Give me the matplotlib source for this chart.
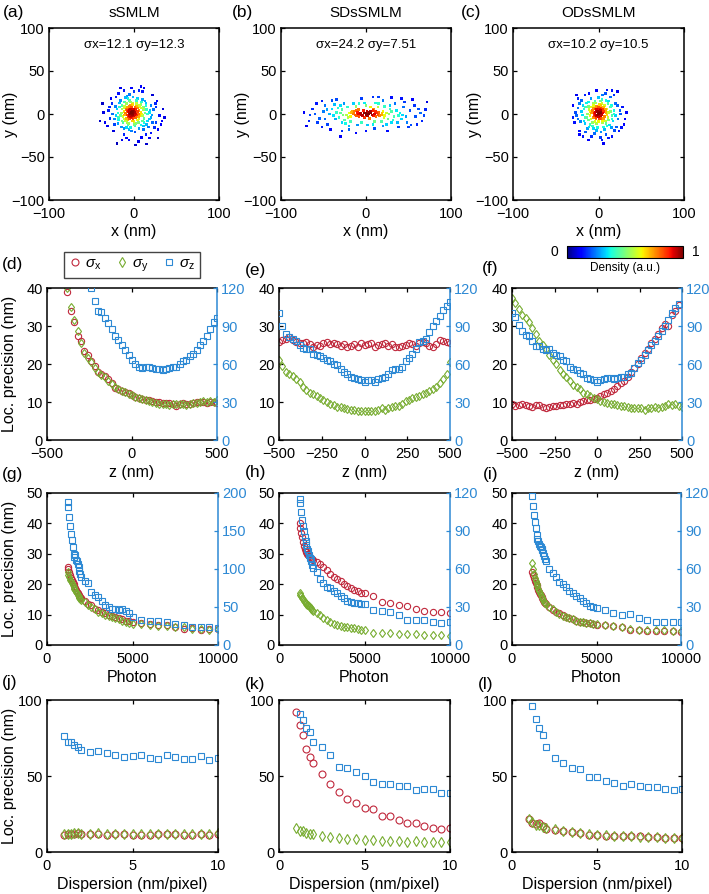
import numpy as np
import matplotlib
matplotlib.use('Agg')
import matplotlib.pyplot as plt
from matplotlib.cm import ScalarMappable
from matplotlib.lines import Line2D

plt.rcParams['font.family'] = ['Liberation Sans', 'DejaVu Sans']
plt.rcParams['mathtext.fontset'] = 'custom'
plt.rcParams['mathtext.rm'] = 'Liberation Sans'
plt.rcParams['mathtext.it'] = 'Liberation Sans:italic'

RED = '#C0283C'
GREEN = '#77AC30'
BLUE = '#2D89D4'
W, H = 709, 894

# ---- row 1: localisation clouds (x, y in nm) ----
cloud_a = [(-3, 2), (-5, 4), (-1, 0), (-6, -1), (0, 5), (-4, -3), (1, 2), (-7, 3), (-2, 6), (0, -2),
           (-6, 6), (2, 5), (-5, -5), (-1, -5), (3, -1), (-8, -1), (-3, 8), (4, 3), (-2, -8), (-9, 5),
           (-4, 0), (-2, 3), (-7, -3), (2, -4), (-3, -2), (1, 8), (-5, 9), (4, 7), (-8, 8), (5, 0),
           (-4, 5), (-2, -1), (0, 3), (-6, 2), (-3, -4), (1, -1), (-1, 6), (-5, -2), (2, 0), (-8, 4),
           (-4, 10), (3, 9), (-10, 1), (6, 4), (-7, -7), (0, -9), (5, -3), (-11, -1), (7, -2), (-9, -5),
           (4, -7), (-2, 11), (9, 0), (-12, 7), (6, 10), (-8, -10), (1, -14), (11, 8), (-14, -8), (13, 1),
           (6, -6), (-12, 3), (-13, -3), (7, 9), (-10, -8), (8, 2), (-1, 13), (-6, -11), (10, -2), (-11, 9),
           (3, 12), (-14, 6), (9, 7), (-4, 14), (5, -10), (-12, -6), (11, 5), (-9, 12), (2, -11), (-7, -13),
           (12, -5), (-15, 1), (0, -12), (8, 11), (-13, -10), (10, -8),
           (-16, -2), (15, 5), (-5, 16), (8, -13), (-11, 14), (12, -10), (-17, 8), (16, -8), (3, 16), (-9, -16),
           (14, 13), (-19, 1), (18, 2), (-4, -16), (9, 14), (-14, 10), (11, -14), (-18, -7), (20, -4), (-7, 18),
           (14, 10), (-18, -4), (16, 0), (-20, 6), (4, 18), (-6, -18), (15, -12), (-17, 13), (10, 17), (-12, -17),
           (19, 4), (-21, -2), (6, -17), (-10, 19), (18, -6), (-19, -11), (-1, 20), (-3, -20), (13, 15), (-16, 16),
           (17, -15), (-15, -15), (21, -1), (-22, 9), (1, -21), (20, 10), (-8, 21), (11, -18), (-23, -6), (-5, 23),
           (23, 5), (-25, 0), (22, -10), (-23, -12), (6, 27), (-12, -24), (25, 12), (-29, 8), (14, -24), (-6, -30),
           (27, 15), (-31, -14), (0, 26), (20, -22), (-21, 20), (33, -8), (-37, 12), (9, -27), (-16, 30), (26, -10),
           (26, 8), (-28, -5), (24, -16), (-26, 12), (10, 26), (-9, -28), (30, -2), (-34, -10), (5, -32), (-18, 24),
           (22, 22), (-24, -20), (12, 30), (-3, 30), (28, -18), (-30, 4), (18, -28), (-14, -30), (34, 6), (-27, 18),
           (8, 32), (-40, -8), (32, -12), (-20, -34), (28, -28), (-36, 2), (15, -35), (-12, 27), (2, -36), (36, -4)]

cloud_b = [(-15, 0), (-10, 2), (-5, -1), (0, 1), (5, 3), (10, 0), (15, 2), (-18, -3), (-8, -3), (2, -2),
           (8, 4), (12, -3), (18, -1), (-12, 4), (-3, 4), (3, 0), (20, 3), (-20, 1), (-6, 1), (7, -1),
           (-1, -4), (13, 1), (-16, 3), (22, -2), (-13, -1), (-2, 1), (6, 1), (16, -2), (-9, 0), (1, 3),
           (-11, -2), (-7, 1), (-4, -2), (4, 2), (9, -2), (14, -1), (-17, 2), (19, 1), (-23, -1), (24, 1),
           (0, -1), (-14, 3), (11, 3), (-21, -4), (21, -4), (-2, -4), (4, -5), (-9, 5), (9, 6),
           (-28, 5), (-32, -4), (-25, -7), (-35, 2), (28, 6), (33, -3), (26, -6), (36, 4), (-22, 8), (-30, 10),
           (22, 9), (30, -10), (-38, -2), (40, 1), (-12, 9), (0, 10), (10, -9), (-5, -10), (14, 8), (-18, -9),
           (18, -9), (5, 8), (-40, 6), (42, -6), (-26, 12), (34, 12), (-8, 12), (8, -12), (-27, -1), (27, 0),
           (-30, 1), (30, 3), (-33, 7), (32, -7), (-36, -6), (38, -2), (-24, -11), (24, -12), (-15, 12), (15, 12),
           (-2, 13), (2, -13), (-28, -10), (28, 10), (-43, 0), (43, -1), (-20, -14), (20, -14), (-10, -13), (11, 13),
           (-46, 5), (47, -3), (-37, 11), (37, -10),
           (-50, 3), (-55, -5), (-48, 10), (52, 4), (58, -3), (48, -10), (-60, 0), (62, 6), (-45, -12), (45, 14),
           (-66, -1), (66, -8), (-52, 15), (55, 17), (-35, 17), (38, -15), (-20, -18), (20, 16), (-5, 18), (10, -17),
           (72, 14), (-70, -14), (-30, -26), (0, -20), (25, -20), (-42, -18), (44, 8), (-58, 12), (60, -12), (15, 20),
           (-63, 6), (64, 1), (-57, -10), (57, 10), (-48, -6), (50, -15), (-67, -8), (68, -2), (-40, 16), (42, 18),
           (-28, -20), (30, 19), (-52, -15), (53, -13), (-12, -22), (8, 20), (-73, 2), (70, 5)]

cloud_c = [(0, 0), (-3, 3), (2, 4), (-2, -2), (4, -1), (-5, 1), (1, -5), (3, 7), (-4, 6), (6, 3),
           (-6, -4), (0, 8), (-1, 3), (5, 5), (2, -2), (-3, -6), (7, -3), (-7, 4), (4, 0), (-2, 9),
           (1, 1), (-4, -1), (3, -5), (6, 8), (-6, 7),
           (-1, -1), (2, 2), (-2, 5), (3, -2), (-4, 2), (0, -3), (5, 1), (-5, -2), (1, 6), (-3, -4),
           (6, -5), (-8, 1), (3, 10), (-6, 10), (8, 5), (-9, -6), (0, -9), (10, -1), (-10, 3), (5, -8),
           (-4, -9), (7, 10), (-12, 9), (12, -7), (-14, -4), (14, 3), (2, 15), (-4, 15), (10, -14), (-10, -12),
           (15, 10), (-15, 8), (-1, -16), (16, -6), (-17, -8), (11, 12), (6, -15), (-12, 14), (18, 0), (-7, -14),
           (9, 2), (-10, -2), (8, -8), (-9, 8), (1, 11), (-2, -11), (10, 6), (-11, 5), (5, -10), (-7, -10),
           (11, -4), (-12, -7), (4, 12), (-6, 12), (12, 2), (-13, 0), (9, -11), (-3, 13),
           (14, 8), (-16, -4), (16, -2), (-17, 6), (4, 17), (-6, -17), (13, -13), (-14, 13), (9, 16), (-11, -15),
           (18, 4), (-19, -1), (7, -18), (-9, 18), (17, -8), (-16, -11), (0, 19), (-2, -19), (12, 15), (-18, 10),
           (15, -16), (-13, -17), (20, -2), (-20, 3), (3, -21),
           (20, 12), (-21, -9), (23, -6), (-24, 7), (5, 22), (-5, -23), (19, -19), (-20, 16), (14, 20), (-15, -21),
           (25, 4), (-26, -2), (9, -24), (-11, 24), (27, -16), (-30, 10), (2, -27), (16, 27), (-22, -24), (33, 2),
           (22, 10), (-24, -6), (21, -15), (-22, 12), (8, 24), (-8, -26), (26, 0), (-28, -10), (4, -30), (-16, 22),
           (18, 22), (-22, -20), (10, 28), (-2, 27), (24, -20), (-27, 2), (16, -26), (-12, -30), (28, 8), (-24, 18),
           (6, -34), (-30, -4), (30, -12), (-18, -26), (22, 26), (-26, 22), (31, -6), (12, -28)]

titles = ['sSMLM', 'SDsSMLM', 'ODsSMLM']
notes = ['σx=12.1 σy=12.3', 'σx=24.2 σy=7.51', 'σx=10.2 σy=10.5']

# ---- row 2: precision vs z ----
d_sx = [39.0, 34.0, 31.0, 27.5, 26.0, 23.5, 22.5, 20.8, 19.5, 18.0, 17.5, 16.8, 16.0, 15.0, 13.8, 13.5,
        13.0, 12.6, 12.3, 11.8, 11.3, 11.0, 10.8, 10.6, 10.4, 10.2, 10.0, 9.9, 9.8, 9.8, 9.7, 9.4, 9.0,
        9.4, 9.8, 9.6, 9.5, 9.7, 10.0, 9.9, 10.0, 9.8, 10.0, 9.9, 9.8]
d_sy = [40.0, 35.0, 31.5, 28.8, 25.5, 23.0, 21.5, 20.5, 19.0, 18.0, 17.0, 16.5, 15.5, 14.8, 14.0, 13.5,
        13.0, 12.7, 12.2, 11.8, 11.4, 11.0, 10.7, 10.5, 10.3, 10.0, 9.8, 9.6, 9.5, 9.4, 9.3, 9.5, 9.6,
        9.4, 9.5, 9.3, 9.6, 9.8, 9.7, 10.0, 10.2, 10.0, 10.3, 10.1, 10.4]
d_sz = [120, 110, 102, 101, 96, 92, 88, 82, 79, 75, 71, 67, 63, 60, 58, 57, 58, 58, 57, 56, 56, 55, 56,
        57, 58, 58, 60, 62, 63, 66, 68, 71, 75, 78, 82, 88, 93, 96]
e_sx = [25.8, 26.2, 26.5, 27.0, 26.4, 25.8, 25.5, 25.6, 25.8, 25.3, 24.5, 25.0, 24.8, 25.5, 25.9, 25.2,
        25.6, 25.3, 24.8, 25.2, 24.5, 24.8, 25.3, 24.4, 25.5, 25.0, 25.3, 25.6, 24.6, 25.0, 25.2, 25.5,
        24.7, 25.3, 24.5, 24.6, 24.8, 25.0, 25.6, 25.2, 24.7, 25.4, 25.8, 25.4, 24.7, 24.5, 25.2, 26.2,
        26.0, 25.7, 25.5]
e_sy = [21.0, 19.5, 18.0, 17.5, 16.8, 16.0, 15.2, 14.0, 13.2, 12.5, 12.0, 11.5, 11.0, 10.5, 10.0, 9.6,
        9.2, 8.8, 8.6, 8.5, 8.2, 7.8, 7.8, 7.7, 7.7, 7.7, 7.7, 7.7, 7.7, 8.0, 8.3, 8.0, 8.5, 8.7, 9.0,
        9.0, 9.5, 10.3, 10.6, 11.0, 11.2, 11.5, 12.0, 12.5, 13.0, 13.5, 14.0, 15.0, 16.0, 17.5, 20.5]
e_sz = [100, 90, 84, 81, 80, 78, 75, 73, 72, 72, 68, 67, 66, 65, 63, 62, 60, 59, 56, 54, 52, 50, 49, 48,
        47, 46, 47, 47, 46, 48, 49, 50, 52, 55, 56, 56, 58, 62, 65, 68, 72, 77, 78, 80, 85, 90, 94, 98,
        103, 106, 109]
f_sx = [9.6, 9.0, 9.2, 9.4, 9.3, 9.0, 8.6, 9.2, 9.3, 8.6, 8.4, 8.8, 8.9, 9.0, 9.2, 9.1, 9.4, 9.6, 9.8,
        9.5, 10.0, 10.3, 10.5, 10.6, 10.8, 11.0, 11.5, 12.0, 12.5, 13.0, 13.5, 14.2, 15.0, 15.6, 16.5,
        18.0, 19.0, 20.0, 21.5, 23.0, 24.0, 25.5, 26.5, 28.0, 29.5, 30.5, 30.0, 33.0, 34.0, 35.5]
f_sy = [37.5, 36.0, 34.5, 33.0, 32.0, 31.0, 29.5, 28.0, 26.0, 25.0, 24.0, 22.5, 21.0, 20.0, 18.5, 17.5,
        16.5, 15.5, 14.5, 14.0, 13.5, 12.5, 12.0, 11.5, 11.0, 10.7, 10.3, 10.0, 9.8, 9.5, 9.6, 9.3, 9.0,
        9.0, 8.8, 8.5, 8.3, 8.5, 8.4, 8.0, 8.5, 8.3, 8.8, 8.5, 8.8, 9.0, 9.5, 9.3, 9.5, 9.0, 8.8]
f_sz = [100, 97, 91, 86, 83, 82, 78, 74, 74, 72, 71, 72, 69, 67, 66, 63, 62, 58, 56, 55, 53, 52, 49, 48,
        47, 46, 47, 48, 49, 49, 48, 49, 50, 50, 52, 53, 57, 61, 63, 67, 71, 75, 78, 82, 86, 90, 95, 100,
        104, 107]

# ---- row 3: precision vs photon ----
photon = [1200, 1250, 1300, 1350, 1400, 1450, 1500, 1550, 1600, 1650, 1700, 1750, 1800, 1850, 1900, 1950,
          2000, 2200, 2400, 2600, 2800, 3000, 3200, 3400, 3600, 3800, 4000, 4200, 4400, 4600, 4800, 5000,
          5500, 6000, 6500, 7000, 7500, 8000, 8500, 9000, 9500, 10000]
g_sx = [25.5, 25.0, 24.0, 23.0, 22.0, 21.5, 20.8, 20.0, 19.5, 18.8, 18.0, 17.5, 17.0, 16.6, 16.2, 15.8,
        15.5, 14.5, 13.6, 13.0, 12.0, 11.5, 11.0, 10.5, 10.0, 9.6, 9.2, 8.8, 8.4, 8.0, 7.8, 7.5,
        7.2, 6.8, 6.5, 6.5, 6.0, 5.3, 5.5, 5.0, 5.3, 5.4]
g_sy = [24.0, 23.0, 22.5, 21.5, 21.0, 20.5, 19.8, 19.0, 18.5, 18.0, 17.5, 17.0, 16.5, 16.0, 15.6, 15.2,
        14.8, 14.0, 13.2, 12.5, 11.8, 11.0, 10.5, 10.0, 9.6, 9.2, 8.8, 8.4, 8.0, 7.7, 7.4, 7.0,
        7.0, 6.6, 6.3, 6.2, 6.0, 5.8, 5.4, 5.2, 5.0, 5.2]
g_sz = [188, 182, 168, 157, 146, 138, 129, 120, 116, 118, 112, 110, 106, 102, 97, 94,
        90, 84, 81, 70, 66, 63, 58, 53, 50, 48, 47, 46, 48, 45, 42, 37,
        33, 31, 31, 30, 27, 26, 24, 24, 24, 23]
h_sx = [40.0, 38.5, 37.0, 35.5, 34.0, 32.5, 31.5, 31.0, 30.5, 30.0, 29.5, 29.2, 29.0, 28.7, 28.4, 28.2,
        28.0, 27.4, 26.5, 25.8, 24.8, 23.5, 22.5, 21.8, 21.0, 20.0, 19.5, 18.8, 18.0, 17.6, 17.2, 17.0,
        16.1, 14.3, 13.8, 13.3, 12.9, 12.0, 11.3, 11.0, 10.7, 10.5]
h_sy = [17.0, 16.5, 16.0, 15.5, 15.0, 14.6, 14.2, 13.8, 13.5, 13.2, 13.0, 12.7, 12.5, 12.1, 11.8, 11.4,
        11.1, 10.5, 9.8, 9.0, 8.2, 7.6, 7.0, 6.6, 6.3, 6.0, 5.9, 5.7, 5.5, 5.3, 5.0, 4.9,
        4.1, 3.9, 3.8, 3.7, 3.6, 3.5, 3.4, 3.3, 3.2, 3.0]
h_sz = [115, 112, 105, 99, 94, 90, 85, 82, 79, 76, 74, 71, 69, 68, 66, 63,
        61, 58, 52, 49, 46, 45, 43, 41, 39, 37, 35, 34, 33, 33, 32, 32,
        28, 27, 26, 24, 20, 20, 20, 18.5, 17.5, 18.5]
i_sx = [24.0, 23.0, 22.0, 21.0, 20.3, 19.6, 19.0, 18.2, 17.5, 16.9, 16.3, 15.8, 15.3, 14.8, 14.3, 13.8,
        13.4, 12.5, 11.6, 11.0, 10.4, 9.9, 9.3, 8.8, 8.4, 8.0, 7.7, 7.5, 7.3, 7.1, 6.9, 6.7,
        6.5, 6.2, 5.8, 5.0, 4.8, 4.7, 4.6, 4.7, 4.5, 4.4]
i_sy = [27.0, 25.0, 23.5, 22.0, 21.0, 20.0, 19.3, 18.5, 17.8, 17.0, 16.4, 15.9, 15.3, 14.8, 14.3, 13.9,
        13.5, 12.6, 11.8, 11.0, 10.3, 9.7, 9.2, 8.8, 8.4, 8.0, 7.7, 7.5, 7.3, 7.1, 6.9, 6.8,
        6.6, 6.3, 5.9, 5.3, 5.0, 4.9, 4.8, 4.8, 4.7, 4.5]
i_sz = [118, 110, 103, 97, 92, 87, 84, 82, 80, 78, 77, 76, 75, 73, 70, 68,
        66, 60, 57, 54, 50, 48, 46, 43, 41, 39, 37, 35, 33, 31, 30, 29.5,
        27.5, 25.5, 23.6, 24.4, 21.0, 19.7, 18.4, 18.4, 18.4, 18.4]

# ---- row 4: precision vs dispersion ----
disp = [1.0, 1.2, 1.4, 1.6, 1.8, 2.0, 2.5, 3.0, 3.5, 4.0, 4.5, 5.0, 5.5, 6.0, 6.5, 7.0, 7.5, 8.0,
        8.5, 9.0, 9.5, 10.0]
j_sx = [11.5, 11.8, 11.6, 11.9, 12.2, 11.6, 11.8, 11.9, 11.2, 11.7, 11.8, 11.4, 11.5, 11.4, 11.8, 11.6,
        11.6, 11.5, 11.3, 11.6, 11.5, 12.0]
j_sy = [11.8, 11.6, 12.0, 12.2, 12.5, 11.9, 12.0, 12.2, 11.8, 12.0, 11.9, 11.8, 12.0, 11.9, 12.1, 11.9,
        12.0, 11.8, 11.8, 11.7, 12.0, 12.3]
j_sz = [76.5, 72.6, 72.6, 70.4, 69.3, 67.1, 66.0, 66.7, 65.0, 63.8, 62.7, 63.4, 63.8, 62.0, 61.4, 63.8,
        62.7, 61.2, 61.2, 63.2, 60.5, 61.6]
k_sx = [92.3, 83.4, 77.0, 67.5, 62.5, 58.7, 51.0, 45.0, 39.3, 35.1, 32.0, 29.1, 28.3, 23.8, 23.4, 20.8,
        19.4, 19.0, 17.2, 16.1, 15.2, 15.5]
k_sy = [15.7, 14.1, 13.5, 12.4, 11.9, 11.7, 10.2, 9.7, 9.1, 8.4, 8.4, 7.9, 7.9, 7.5, 7.5, 7.1,
        6.6, 7.3, 6.6, 6.6, 6.8, 6.6]
k_sz = [np.nan, 90.7, 87.0, 81.9, 79.0, 72.6, 69.0, 63.6, 56.0, 55.0, 52.5, 49.8, 46.0, 44.8, 44.8, 43.5,
        43.5, 41.0, 41.3, 41.3, 39.0, 38.9]
l_sx = [21.6, 19.0, 18.3, 19.4, 16.8, 15.0, 14.6, 13.5, 13.0, 12.4, 11.3, 11.3, 10.6, 10.2, 10.6, 10.2,
        10.2, 9.7, 9.7, 9.3, 9.3, 9.3]
l_sy = [22.0, 20.0, 18.0, 17.5, 16.5, 15.5, 15.0, 14.0, 13.0, 12.5, 11.8, 11.5, 11.0, 10.8, 10.5, 10.2,
        10.0, 9.8, 9.6, 9.4, 9.4, 9.3]
l_sz = [np.nan, 96.2, 87.4, 81.9, 77.0, 69.3, 61.6, 58.7, 55.4, 54.3, 49.4, 49.4, 46.6, 45.5, 43.7, 44.8,
        43.7, 43.0, 42.8, 41.7, 40.8, 41.3]


def box(l, t, r, b):
    return [l / W, 1 - b / H, (r - l) / W, (b - t) / H]


def ftext(x, y, s, **kw):
    fig.text(x / W, 1 - y / H, s, **kw)


def style(ax, right=True):
    for sp in ax.spines.values():
        sp.set_linewidth(1.1)
    ax.tick_params(direction='in', length=3, width=0.9, labelsize=10.5, top=True, right=right)
    ax.tick_params(axis='x', pad=5)
    ax.tick_params(axis='y', pad=3)


def mk(ax, x, y, m, c, ms=4.5):
    ax.plot(x, y, m, ls='none', mfc='none', mec=c, ms=ms, mew=0.8)


def ylab(ax, s, left_px, x_px):
    # x_px: right edge of the rotated y label, in figure pixels
    w = ax.get_position().width * W
    ax.set_ylabel(s, fontsize=LBL)
    ax.yaxis.set_label_coords((x_px - left_px) / w, 0.5)


fig = plt.figure(figsize=(W / 100, H / 100), dpi=100)
LBL = 11.5

# row 1
lefts1 = [49, 281, 513]
rects1 = [box(49, 28, 219, 200), box(281, 28, 451, 200), box(513, 28, 684, 200)]
for k, (rect, pts) in enumerate(zip(rects1, [cloud_a, cloud_b, cloud_c])):
    ax = fig.add_axes(rect)
    p = np.array(pts, float)
    d2 = ((p[:, None, :] - p[None, :, :]) ** 2).sum(-1)
    dens = np.exp(-d2 / (2 * 6.0 ** 2)).sum(1)
    dens = dens / dens.max()
    o = np.argsort(dens)
    ax.scatter(p[o, 0], p[o, 1], c=dens[o], cmap='jet', vmin=0, vmax=1, s=3.5, marker='s', linewidths=0)
    ax.set_xlim(-100, 100)
    ax.set_ylim(-100, 100)
    ax.set_xticks([-100, 0, 100])
    ax.set_yticks([-100, -50, 0, 50, 100])
    style(ax)
    ax.set_xlabel('x (nm)', fontsize=LBL, labelpad=2)
    ylab(ax, 'y (nm)', lefts1[k], lefts1[k] - 31)
    ax.set_title(titles[k], fontsize=11, pad=8)
    ax.text(0.5, 0.9, notes[k], transform=ax.transAxes, ha='center', va='center', fontsize=9.5)

# colorbar
cax = fig.add_axes(box(567, 246, 683, 258))
cb = fig.colorbar(ScalarMappable(cmap='jet'), cax=cax, orientation='horizontal')
cax.set_xticks([])
cb.outline.set_linewidth(0.8)
ftext(554, 252, '0', ha='center', va='center', fontsize=10)
ftext(696, 252, '1', ha='center', va='center', fontsize=10)
ftext(625, 268, 'Density (a.u.)', ha='center', va='center', fontsize=8.5)


def twin_panel(rect, x, sx, xlim, xticks, ylim, yticks, rlim, rticks):
    ax = fig.add_axes(rect)
    mk(ax, x, sx, 'o', RED)
    ax.set_xlim(*xlim)
    ax.set_ylim(*ylim)
    ax.set_xticks(xticks)
    ax.set_yticks(yticks)
    style(ax, right=False)
    ax.spines['right'].set_visible(False)
    ax2 = ax.twinx()
    ax2.set_ylim(*rlim)
    ax2.set_yticks(rticks)
    ax2.tick_params(direction='in', length=3, width=0.9, labelsize=10.5, colors=BLUE, pad=3)
    for sp in ax2.spines.values():
        sp.set_visible(False)
    ax2.spines['right'].set_visible(True)
    ax2.spines['right'].set_color(BLUE)
    ax2.spines['right'].set_linewidth(1.1)
    return ax, ax2


# (d)
ax, ax2 = twin_panel(box(47, 288, 217, 440), np.linspace(-380, 500, len(d_sx)), d_sx,
                     (-500, 500), [-500, 0, 500], (0, 40), [0, 10, 20, 30, 40], (0, 120), [0, 30, 60, 90, 120])
mk(ax, np.linspace(-380, 500, len(d_sy)), d_sy, 'd', GREEN)
mk(ax2, np.linspace(-240, 500, len(d_sz)), d_sz, 's', BLUE)
ylab(ax, 'Loc. precision (nm)', 47, 17)
ax.set_xlabel('z (nm)', fontsize=LBL, labelpad=3)
# (e)
ax, ax2 = twin_panel(box(279, 288, 450, 440), np.linspace(-500, 500, len(e_sx)), e_sx,
                     (-500, 500), [-500, -250, 0, 250, 500], (0, 40), [0, 10, 20, 30, 40], (0, 120),
                     [0, 30, 60, 90, 120])
mk(ax, np.linspace(-500, 500, len(e_sy)), e_sy, 'd', GREEN)
mk(ax2, np.linspace(-500, 500, len(e_sz)), e_sz, 's', BLUE)
ax.set_xlabel('z (nm)', fontsize=LBL, labelpad=3)
# (f)
ax, ax2 = twin_panel(box(512, 288, 682, 440), np.linspace(-500, 480, len(f_sx)), f_sx,
                     (-500, 500), [-500, -250, 0, 250, 500], (0, 40), [0, 10, 20, 30, 40], (0, 120),
                     [0, 30, 60, 90, 120])
mk(ax, np.linspace(-500, 500, len(f_sy)), f_sy, 'd', GREEN)
mk(ax2, np.linspace(-500, 480, len(f_sz)), f_sz, 's', BLUE)
ax.set_xlabel('z (nm)', fontsize=LBL, labelpad=3)

# row 3
row3 = [(box(47, 493, 218, 645), g_sx, g_sy, g_sz, (0, 200), [0, 50, 100, 150, 200]),
        (box(279, 493, 450, 645), h_sx, h_sy, h_sz, (0, 120), [0, 30, 60, 90, 120]),
        (box(512, 493, 681, 645), i_sx, i_sy, i_sz, (0, 120), [0, 30, 60, 90, 120])]
for k, (rect, sx, sy, sz, rlim, rt) in enumerate(row3):
    ax, ax2 = twin_panel(rect, photon, sx, (0, 10000), [0, 5000, 10000], (0, 50),
                         [0, 10, 20, 30, 40, 50], rlim, rt)
    mk(ax, photon, sy, 'd', GREEN)
    mk(ax2, photon, sz, 's', BLUE)
    ax.set_xlabel('Photon', fontsize=LBL, labelpad=3)
    if k == 0:
        ylab(ax, 'Loc. precision (nm)', 47, 17)

# row 4
row4 = [(box(47, 700, 218, 852), j_sx, j_sy, j_sz),
        (box(279, 700, 450, 852), k_sx, k_sy, k_sz),
        (box(512, 700, 682, 852), l_sx, l_sy, l_sz)]
for k, (rect, sx, sy, sz) in enumerate(row4):
    ax = fig.add_axes(rect)
    mk(ax, disp, sx, 'o', RED, 5)
    mk(ax, disp, sy, 'd', GREEN, 5)
    mk(ax, disp, sz, 's', BLUE, 5)
    ax.set_xlim(0, 10)
    ax.set_ylim(0, 100)
    ax.set_xticks([0, 5, 10])
    ax.set_yticks([0, 50, 100])
    style(ax)
    ax.set_xlabel('Dispersion (nm/pixel)', fontsize=LBL, labelpad=3)
    if k == 0:
        ylab(ax, 'Loc. precision (nm)', 47, 17)

# legend
handles = [Line2D([], [], ls='none', marker=m, mfc='none', mec=c, ms=5, mew=0.8)
           for m, c in [('o', RED), ('d', GREEN), ('s', BLUE)]]
fig.legend(handles, [r'$\sigma_{\rm x}$', r'$\sigma_{\rm y}$', r'$\sigma_{\rm z}$'], ncol=3,
           loc='center', bbox_to_anchor=(132 / W, 1 - 265 / H), fontsize=11, frameon=True,
           fancybox=False, edgecolor='#444444', handlelength=0.8, handletextpad=0.3,
           columnspacing=0.9, borderpad=0.3, framealpha=1)

# panel letters
for s, x, y in [('(a)', 3, 12), ('(b)', 232, 12), ('(c)', 461, 12),
                ('(d)', 2, 265), ('(e)', 245, 270), ('(f)', 482, 269),
                ('(g)', 2, 475), ('(h)', 245, 473), ('(i)', 483, 475),
                ('(j)', 2, 683), ('(k)', 245, 685), ('(l)', 478, 685)]:
    ftext(x, y, s, ha='left', va='center', fontsize=12.5)

fig.savefig('out.png', dpi=100)
